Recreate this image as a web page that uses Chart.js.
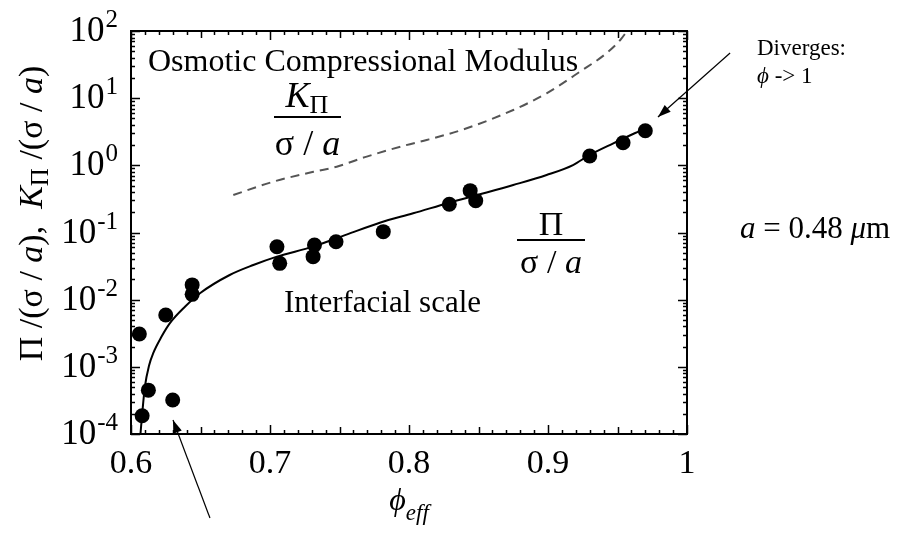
<!DOCTYPE html>
<html><head><meta charset="utf-8">
<script src="https://cdn.jsdelivr.net/npm/chart.js@4.4.1/dist/chart.umd.min.js"></script>
<style>html,body{margin:0;padding:0;background:#fff;}#wrap{width:903px;height:535px;position:relative;}</style>
</head><body><div id="wrap"><canvas id="c" width="903" height="535"></canvas></div>
<script>
// measured points: phi_eff vs Pi/(sigma/a)
const phiData = [0.606,0.608,0.6125,0.625,0.630,0.644,0.644,0.705,0.707,0.731,0.732,0.7475,0.7815,0.829,0.844,0.848,0.930,0.954,0.970];
const piData  = [3.08e-3,1.87e-4,4.5e-4,5.9e-3,3.2e-4,0.0166,0.012,0.0615,0.0347,0.0437,0.0652,0.0729,0.103,0.263,0.42,0.298,1.38,2.17,3.28];
// fitted curve Pi/(sigma/a)
const phiFit = [0.6068,0.6081,0.610,0.613,0.616,0.622,0.628,0.639,0.6496,0.671,0.688,0.705,0.731,0.755,0.779,0.803,0.829,0.851,0.875,0.899,0.918,0.930,0.947,0.970];
const piFit  = [1.0e-4,2.04e-4,5.06e-4,1.05e-3,1.6e-3,2.82e-3,4.47e-3,7.9e-3,0.01245,0.0233,0.0328,0.0437,0.0617,0.093,0.14,0.193,0.278,0.37,0.509,0.718,1.01,1.43,2.13,3.56];
// osmotic compressional modulus K_Pi/(sigma/a)
const phiK = [0.6736,0.7024,0.7312,0.748,0.7696,0.798,0.8127,0.8415,0.875,0.899,0.923,0.942,0.952,0.9566];
const kFit = [0.361,0.571,0.80,0.955,1.35,2.0,2.38,3.56,6.67,11.8,24.8,46.6,73.5,97.7];
// ticks
const xTickValues = [0.6,0.7,0.8,0.9,1.0];
const xTickLabels = ['0.6','0.7','0.8','0.9','1'];
const yTickExponents = [-4,-3,-2,-1,0,1,2];
// annotation arrows in data coordinates [fromX, fromY, toX, toY]
const arrowLow = [0.6568, 5.6e-6, 0.6302, 1.62e-4];
const arrowHigh = [1.031, 47, 0.9791, 5.25];

const SERIF = '"Liberation Serif", "Times New Roman", serif';
function f(sz, it){ return (it?'italic ':'') + sz + 'px ' + SERIF; }
function runsWidth(ctx, runs){ let w=0; for(const r of runs){ ctx.font=r.font; w+=ctx.measureText(r.t).width; } return w; }
function drawRuns(ctx, runs, x, y, align){
  let w = runsWidth(ctx, runs);
  let cx = align==='center' ? x - w/2 : (align==='right' ? x - w : x);
  ctx.textAlign='left'; ctx.textBaseline='alphabetic';
  for(const r of runs){ ctx.font=r.font; ctx.fillText(r.t, cx, y + (r.dy||0)); cx += ctx.measureText(r.t).width; }
}
function arrow(ctx, x1,y1,x2,y2){
  ctx.beginPath(); ctx.moveTo(x1,y1); ctx.lineTo(x2,y2); ctx.lineWidth=1.2; ctx.strokeStyle='#000'; ctx.stroke();
  const a=Math.atan2(y2-y1,x2-x1), L=13, W=4.5;
  ctx.beginPath(); ctx.moveTo(x2,y2);
  ctx.lineTo(x2-L*Math.cos(a)+W*Math.sin(a), y2-L*Math.sin(a)-W*Math.cos(a));
  ctx.lineTo(x2-L*Math.cos(a)-W*Math.sin(a), y2-L*Math.sin(a)+W*Math.cos(a));
  ctx.closePath(); ctx.fillStyle='#000'; ctx.fill();
}

const deco = {
  id:'deco',
  afterDraw(chart){
    const ctx=chart.ctx, a=chart.chartArea, xs=chart.scales.x, ys=chart.scales.y;
    ctx.save();
    ctx.fillStyle='#000'; ctx.strokeStyle='#000';
    // frame
    ctx.lineWidth=2; ctx.strokeRect(a.left,a.top,a.right-a.left,a.bottom-a.top);
    // x ticks (inward, bottom & top)
    ctx.lineWidth=1.5;
    for(let i=60;i<=100;i++){
      const px=Math.round(xs.getPixelForValue(i/100))+0.5;
      const len = i%10===0 ? 9 : (i%5===0 ? 7 : 4);
      ctx.beginPath(); ctx.moveTo(px,a.bottom); ctx.lineTo(px,a.bottom-len);
      ctx.moveTo(px,a.top); ctx.lineTo(px,a.top+len); ctx.stroke();
    }
    // y ticks (log, inward, left & right)
    for(let e=-4;e<=2;e++){
      for(let m=1;m<=9;m++){
        if(e===2 && m>1) break;
        const py=Math.round(ys.getPixelForValue(m*Math.pow(10,e)))+0.5;
        const len = m===1 ? 9 : 4;
        ctx.beginPath(); ctx.moveTo(a.left,py); ctx.lineTo(a.left+len,py);
        ctx.moveTo(a.right,py); ctx.lineTo(a.right-len,py); ctx.stroke();
      }
    }
    // x tick labels
    ctx.textAlign='center'; ctx.textBaseline='alphabetic'; ctx.font=f(34);
    xTickValues.forEach((v,i)=>{ ctx.fillText(xTickLabels[i], xs.getPixelForValue(v), a.bottom+39); });
    // y tick labels 10^n
    yTickExponents.forEach(e=>{
      const py=ys.getPixelForValue(Math.pow(10,e));
      const ex = e<0 ? '-'+(-e) : String(e);
      ctx.font=f(25); const ew=ctx.measureText(ex).width;
      ctx.textAlign='right';
      ctx.fillText(ex, a.left-13, py-4);
      ctx.font=f(35);
      ctx.fillText('10', a.left-13-ew-1, py+10);
    });
    ctx.textAlign='left';
    // axis titles
    drawRuns(ctx,[{t:'\u03D5',font:f(32,true)},{t:'eff',font:f(23,true),dy:10}], (a.left+a.right)/2, a.bottom+76,'center');
    ctx.save(); ctx.translate(42,(a.top+a.bottom)/2-19); ctx.rotate(-Math.PI/2);
    drawRuns(ctx,[
      {t:'\u03A0 /(\u03C3 / ',font:f(34)},{t:'a',font:f(34,true)},{t:'),  ',font:f(34)},
      {t:'K',font:f(34,true)},{t:'\u03A0',font:f(25),dy:6},{t:' /(\u03C3 / ',font:f(34)},{t:'a',font:f(34,true)},{t:')',font:f(34)}
    ],0,0,'center');
    ctx.restore();
    // annotations
    drawRuns(ctx,[{t:'Osmotic Compressional Modulus',font:f(32)}],148,71,'left');
    // K_Pi fraction
    drawRuns(ctx,[{t:'K',font:f(36,true)},{t:'\u03A0',font:f(26),dy:6}],307,107,'center');
    ctx.lineWidth=2; ctx.beginPath(); ctx.moveTo(274,117); ctx.lineTo(341,117); ctx.stroke();
    drawRuns(ctx,[{t:'\u03C3 / ',font:f(36)},{t:'a',font:f(36,true)}],307.5,155,'center');
    // Pi fraction
    drawRuns(ctx,[{t:'\u03A0',font:f(34)}],551,235,'center');
    ctx.beginPath(); ctx.moveTo(517,240); ctx.lineTo(585,240); ctx.stroke();
    drawRuns(ctx,[{t:'\u03C3 / ',font:f(34)},{t:'a',font:f(34,true)}],551,273,'center');
    drawRuns(ctx,[{t:'Interfacial scale',font:f(31)}],284,312,'left');
    drawRuns(ctx,[{t:'a',font:f(31,true)},{t:' = 0.48 ',font:f(31)},{t:'\u03BC',font:f(31,true)},{t:'m',font:f(31)}],740,238,'left');
    drawRuns(ctx,[{t:'Diverges:',font:f(23)}],757,55,'left');
    drawRuns(ctx,[{t:'\u03D5',font:f(23,true)},{t:' -> 1',font:f(23)}],757,83,'left');
    // arrows
    arrow(ctx, xs.getPixelForValue(arrowLow[0]), ys.getPixelForValue(arrowLow[1]), xs.getPixelForValue(arrowLow[2]), ys.getPixelForValue(arrowLow[3]));
    arrow(ctx, xs.getPixelForValue(arrowHigh[0]), ys.getPixelForValue(arrowHigh[1]), xs.getPixelForValue(arrowHigh[2]), ys.getPixelForValue(arrowHigh[3]));
    ctx.restore();
  }
};

new Chart(document.getElementById('c'),{
  type:'scatter',
  data:{datasets:[
    {label:'K_Pi/(sigma/a)', data:phiK.map((x,i)=>({x,y:kFit[i]})), showLine:true, pointRadius:0, borderColor:'#555', borderWidth:2, borderDash:[9,6], cubicInterpolationMode:'monotone', fill:false},
    {label:'fit', data:phiFit.map((x,i)=>({x,y:piFit[i]})), showLine:true, pointRadius:0, borderColor:'#000', borderWidth:2, cubicInterpolationMode:'monotone', fill:false},
    {label:'Pi/(sigma/a)', data:phiData.map((x,i)=>({x,y:piData[i]})), showLine:false, pointRadius:7.5, pointBackgroundColor:'#000', pointBorderColor:'#000', pointBorderWidth:0}
  ]},
  options:{
    responsive:false, animation:false, events:[],
    layout:{padding:{left:131,right:216,top:31,bottom:101}},
    plugins:{legend:{display:false},tooltip:{enabled:false}},
    scales:{
      x:{type:'linear',min:0.6,max:1.0,display:false},
      y:{type:'logarithmic',min:1e-4,max:100,display:false}
    }
  },
  plugins:[deco]
});
</script></body></html>
